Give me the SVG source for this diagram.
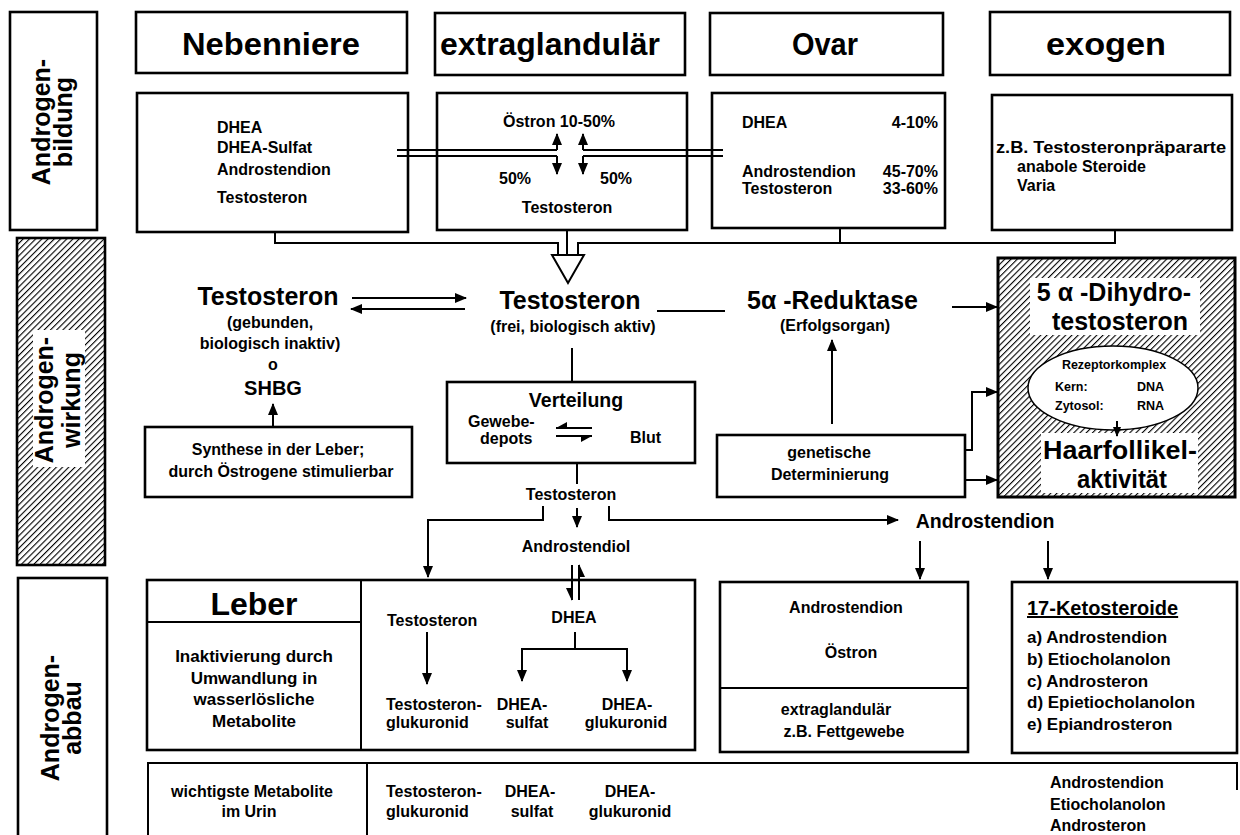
<svg xmlns="http://www.w3.org/2000/svg" width="1240" height="835" viewBox="0 0 1240 835">
<defs>
<style>
text{font-family:"Liberation Sans",Arial,Helvetica,sans-serif;font-weight:bold;fill:#000}
.box{fill:#fff;stroke:#000;stroke-width:2.6}
.ln{fill:none;stroke:#000;stroke-width:2}
.arr{fill:none;stroke:#000;stroke-width:2;marker-end:url(#ah)}
.c{text-anchor:middle}
.e{text-anchor:end}
.t{font-size:16px}
.m{font-size:17px}
.big{font-size:25px}
.hd{font-size:31px}
.rot{font-size:25px;text-anchor:middle}
</style>
<marker id="ah" viewBox="0 0 12 10" refX="11" refY="5" markerWidth="12" markerHeight="10" markerUnits="userSpaceOnUse" orient="auto"><path d="M0,0 L12,5 L0,10 z" fill="#000"/></marker>
<marker id="ahs" viewBox="0 0 10 8" refX="9" refY="4" markerWidth="10" markerHeight="8" markerUnits="userSpaceOnUse" orient="auto"><path d="M0,0 L10,4 L0,8 z" fill="#000"/></marker>
<pattern id="hatch" width="4.4" height="4.4" patternUnits="userSpaceOnUse" patternTransform="rotate(45)"><rect width="4.4" height="4.4" fill="#fff"/><line x1="0" y1="0" x2="0" y2="4.4" stroke="#000" stroke-width="2.2"/></pattern>
</defs>
<rect width="1240" height="835" fill="#fff"/>

<!-- Section labels -->
<g id="label-bildung">
<rect class="box" x="10" y="12" width="87" height="218"/>
<text class="rot" transform="translate(50,122) rotate(-90)">Androgen-</text>
<text class="rot" transform="translate(72,122) rotate(-90)">bildung</text>
</g>
<g id="label-wirkung">
<rect x="17" y="238" width="88" height="327" fill="url(#hatch)" stroke="#000" stroke-width="2.6"/>
<rect x="33" y="330" width="52" height="137" fill="#fff"/>
<text class="rot" transform="translate(53,400) rotate(-90)">Androgen-</text>
<text class="rot" transform="translate(80,400) rotate(-90)">wirkung</text>
</g>
<g id="label-abbau">
<rect class="box" x="18" y="578" width="89" height="270"/>
<text class="rot" transform="translate(59,718) rotate(-90)">Androgen-</text>
<text class="rot" transform="translate(81,718) rotate(-90)">abbau</text>
</g>

<!-- Headers -->
<g id="h-nebenniere"><rect class="box" x="136" y="12" width="271" height="61"/><text class="hd c" x="271" y="55" textLength="178" lengthAdjust="spacingAndGlyphs">Nebenniere</text></g>
<g id="h-extraglandular"><rect class="box" x="435" y="13" width="250" height="62"/><text class="hd c" x="550" y="55" textLength="220" lengthAdjust="spacingAndGlyphs">extraglandulär</text></g>
<g id="h-ovar"><rect class="box" x="710" y="13" width="233" height="62"/><text class="hd c" x="825" y="55" textLength="66" lengthAdjust="spacingAndGlyphs">Ovar</text></g>
<g id="h-exogen"><rect class="box" x="990" y="12" width="240" height="63"/><text class="hd c" x="1106" y="55" textLength="120" lengthAdjust="spacingAndGlyphs">exogen</text></g>

<!-- Content boxes -->
<g id="c-nebenniere"><rect class="box" x="137" y="93" width="271" height="139"/>
<text class="t" x="217" y="133">DHEA</text>
<text class="t" x="217" y="153">DHEA-Sulfat</text>
<text class="t" x="217" y="175">Androstendion</text>
<text class="t" x="217" y="203">Testosteron</text>
</g>
<g id="c-extraglandular"><rect class="box" x="437" y="93" width="250" height="137"/>
<text class="t c" x="559" y="127">Östron 10-50%</text>
<text class="t c" x="515" y="184">50%</text>
<text class="t c" x="616" y="184">50%</text>
<text class="t c" x="567" y="213">Testosteron</text>
</g>
<g id="c-ovar"><rect class="box" x="712" y="93" width="233" height="135"/>
<text class="t" x="742" y="128">DHEA</text><text class="t e" x="938" y="128">4-10%</text>
<text class="t" x="742" y="177">Androstendion</text><text class="t e" x="938" y="177">45-70%</text>
<text class="t" x="742" y="194">Testosteron</text><text class="t e" x="938" y="194">33-60%</text>
</g>
<g id="c-exogen"><rect class="box" x="992" y="95" width="240" height="135"/>
<text class="t" x="996" y="153" textLength="230" lengthAdjust="spacingAndGlyphs">z.B. Testosteronpräpararte</text>
<text class="t" x="1017" y="172">anabole Steroide</text>
<text class="t" x="1017" y="191">Varia</text>
</g>

<!-- Middle nodes -->
<g id="n-testo-gebunden">
<text class="big c" x="268" y="305">Testosteron</text>
<text class="t c" x="270" y="328">(gebunden,</text>
<text class="t c" x="270" y="349">biologisch inaktiv)</text>
<text class="t c" x="273" y="370">o</text>
<text class="c" style="font-size:20px" x="273" y="395">SHBG</text>
</g>
<g id="n-synthese"><rect class="box" x="145" y="427" width="267" height="70"/>
<text class="t c" x="278" y="455">Synthese in der Leber;</text>
<text class="t c" x="281" y="477">durch Östrogene stimulierbar</text>
</g>
<g id="n-testo-frei">
<text class="big c" x="570" y="309">Testosteron</text>
<text class="t c" x="573" y="332">(frei, biologisch aktiv)</text>
</g>
<g id="n-reduktase">
<text class="big" x="747" y="309">5α -Reduktase</text>
<text class="t c" x="835" y="331">(Erfolgsorgan)</text>
</g>
<g id="n-verteilung"><rect class="box" x="447" y="382" width="248" height="81"/>
<text class="c" style="font-size:19.5px" x="576" y="407">Verteilung</text>
<text class="t" x="468" y="427">Gewebe-</text>
<text class="t" x="480" y="444">depots</text>
<text class="t" x="630" y="443">Blut</text>
<path class="ln" d="M556,428 H592"/><polygon points="556,428 567,422 567,428"/>
<path class="ln" d="M556,436 H592"/><polygon points="592,436 581,442 581,436"/>
</g>
<g id="n-testo-small"><text class="t c" x="571" y="500">Testosteron</text></g>
<g id="n-androstendiol"><text class="t c" x="576" y="552">Androstendiol</text></g>
<g id="n-androstendion"><text class="c" style="font-size:19.5px" x="985" y="528">Androstendion</text></g>
<g id="n-genetisch"><rect class="box" x="717" y="435" width="248" height="62"/>
<text class="t c" x="829" y="458">genetische</text>
<text class="t c" x="830" y="480">Determinierung</text>
</g>
<g id="n-dht">
<rect x="998" y="258" width="237" height="239" fill="url(#hatch)" stroke="#000" stroke-width="3"/>
<rect x="1030" y="278" width="170" height="57" fill="#fff"/>
<ellipse cx="1113" cy="388" rx="85" ry="42" fill="#fff" stroke="#000" stroke-width="1.5"/>
<rect x="1041" y="433" width="157" height="60" fill="#fff"/>
<text class="big c" x="1114" y="301">5 α -Dihydro-</text>
<text class="big c" x="1120" y="330">testosteron</text>
<text class="c" style="font-size:12.5px" x="1114" y="369">Rezeptorkomplex</text>
<text style="font-size:12.5px" x="1055" y="391">Kern:</text>
<text style="font-size:12.5px" x="1137" y="391">DNA</text>
<text style="font-size:12.5px" x="1055" y="410">Zytosol:</text>
<text style="font-size:12.5px" x="1137" y="410">RNA</text>
<path d="M1117,421 V436" stroke="#000" stroke-width="2" marker-end="url(#ahs)"/>
<text class="c" style="font-size:25px" x="1120" y="459" textLength="154" lengthAdjust="spacingAndGlyphs">Haarfollikel-</text>
<text class="c" style="font-size:25px" x="1122" y="488" textLength="90" lengthAdjust="spacingAndGlyphs">aktivität</text>
</g>

<!-- Bottom nodes -->
<g id="n-leber">
<rect class="box" x="147" y="580" width="548" height="170"/>
<path class="ln" d="M361,580 V750 M147,622 H361" stroke-width="2.4"/>
<text class="c" style="font-size:32px" x="254" y="615">Leber</text>
<text class="m c" x="254" y="662">Inaktivierung durch</text>
<text class="m c" x="254" y="684">Umwandlung in</text>
<text class="m c" x="254" y="705">wasserlösliche</text>
<text class="m c" x="254" y="727">Metabolite</text>
<text class="t" x="387" y="626">Testosteron</text>
<text class="t c" x="574" y="623">DHEA</text>
<path class="arr" d="M427,632 V684"/>
<path class="ln" d="M575,632 V649 M522,649 H627"/>
<path class="arr" d="M522,648 V681"/>
<path class="arr" d="M627,648 V681"/>
<text class="t" x="386" y="710">Testosteron-</text>
<text class="t" x="386" y="728">glukuronid</text>
<text class="t c" x="522" y="710">DHEA-</text>
<text class="t c" x="527" y="728">sulfat</text>
<text class="t c" x="627" y="710">DHEA-</text>
<text class="t c" x="626" y="728">glukuronid</text>
</g>
<g id="n-androstendion-oestron">
<rect class="box" x="720" y="582" width="248" height="170"/>
<path class="ln" d="M720,688 H968" stroke-width="2.4"/>
<text class="t c" x="846" y="613">Androstendion</text>
<text class="t c" x="851" y="658">Östron</text>
<text class="t c" x="836" y="715">extraglandulär</text>
<text class="t c" x="844" y="737">z.B. Fettgewebe</text>
</g>
<g id="n-ketosteroide">
<rect class="box" x="1012" y="582" width="225" height="171"/>
<text x="1027" y="615" style="font-size:20px;text-decoration:underline">17-Ketosteroide</text>
<text class="m" x="1027" y="643">a) Androstendion</text>
<text class="m" x="1027" y="665">b) Etiocholanolon</text>
<text class="m" x="1027" y="687">c) Androsteron</text>
<text class="m" x="1027" y="708">d) Epietiocholanolon</text>
<text class="m" x="1027" y="730">e) Epiandrosteron</text>
</g>
<g id="n-urin">
<path class="ln" d="M148,835 V763 H1237 V790 M367,763 V835" stroke-width="2.6"/>
<text class="t c" x="252" y="797">wichtigste Metabolite</text>
<text class="t c" x="249" y="817">im Urin</text>
<text class="t" x="386" y="797">Testosteron-</text>
<text class="t" x="386" y="817">glukuronid</text>
<text class="t c" x="530" y="797">DHEA-</text>
<text class="t c" x="532" y="817">sulfat</text>
<text class="t c" x="630" y="797">DHEA-</text>
<text class="t c" x="630" y="817">glukuronid</text>
<text class="t" x="1050" y="788">Androstendion</text>
<text class="t" x="1050" y="810">Etiocholanolon</text>
<text class="t" x="1050" y="831">Androsteron</text>
</g>

<!-- Connectors -->
<g id="connectors">
<path class="ln" d="M397,150 H557 M397,156 H557"/>
<path class="ln" d="M583,150 H723 M583,156 H723"/>
<path class="arr" d="M557,150 V134"/>
<path class="arr" d="M557,156 V174"/>
<path class="arr" d="M583,150 V134"/>
<path class="arr" d="M583,156 V174"/>
<path class="ln" d="M275,232 V243 H558 V255 M578,255 V243 H1115 V230 M840,228 V243 M567,230 V258"/>
<polygon points="552,255 584,255 568,283" fill="#fff" stroke="#000" stroke-width="2"/>
<path class="arr" d="M352,298 H466"/>
<path class="arr" d="M465,309 H351"/>
<path class="arr" d="M273,427 V404"/>
<path class="ln" d="M657,311 H725"/>
<path class="arr" d="M952,307 H997"/>
<path class="arr" d="M832,424 V340"/>
<path class="ln" d="M572,348 V382"/>
<path class="ln" d="M577,463 V484"/>
<path class="arr" d="M543,506 V520 H428 V577"/>
<path class="arr" d="M577,508 V527"/>
<path class="arr" d="M609,506 V520 H898"/>
<path class="arr" d="M920,541 V579"/>
<path class="arr" d="M1048,541 V579"/>
<path class="arr" d="M965,450 H972 V392 H997"/>
<path class="arr" d="M965,480 H997"/>
<path class="ln" d="M572,565 V600"/><polygon points="572,601 566,588 572,588"/>
<path class="ln" d="M579,600 V565"/><polygon points="579,564 585,577 579,577"/>
</g>
</svg>
